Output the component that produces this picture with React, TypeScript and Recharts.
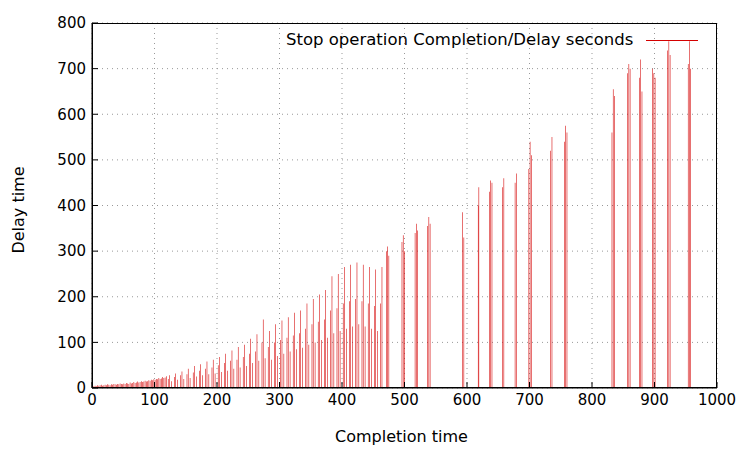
import { ComposedChart, Bar, XAxis, YAxis, CartesianGrid } from "recharts";

const completion = [
  1, 3, 5, 7, 9, 11, 13, 15, 17, 19, 21, 23, 25, 27, 29, 31, 33, 35, 37, 39, 41, 43, 45, 47, 49,
  51, 53, 55, 57, 59, 61, 63, 65, 67, 69, 71, 73, 75, 77, 79, 81, 83, 85, 87, 89, 91, 93, 95, 97, 99,
  101, 103, 105, 107, 109, 111, 113, 115, 117, 119,
  122, 124, 127, 132, 134, 137, 142, 144, 147, 152, 154, 157, 162, 164, 167, 172, 174, 177,
  182, 184, 187, 192, 194, 197, 202, 204, 207, 212, 214, 217, 222, 224, 227, 232, 234, 237,
  242, 244, 247, 252, 254, 257, 262, 264, 267, 272, 274, 277, 282, 284, 287, 292, 294, 297,
  302, 304, 307, 312, 314, 317, 322, 324, 327, 332, 334, 337, 342, 344, 347, 352, 354, 357,
  362, 364, 367, 372, 374, 377, 382, 384, 387, 392, 394, 397, 402, 404, 407, 412, 414, 417,
  422, 424, 427, 432, 434, 437, 442, 444, 447, 452, 454, 457, 462, 464,
  471, 473, 475, 496, 498, 500, 517, 519, 521, 537, 539, 541, 593, 595, 618, 619,
  636, 638, 640, 657, 659, 677, 679, 699, 701, 703, 734, 736, 756, 758, 760,
  832, 834, 836, 857, 859, 861, 876, 878, 880, 897, 899, 901, 921, 923, 925, 954, 956, 958,
];

const delay = [
  3, 4, 5, 4, 6, 5, 6, 7, 5, 6, 7, 6, 8, 7, 6, 8, 7, 9, 8, 7, 9, 8, 10, 9, 8,
  10, 9, 11, 10, 9, 12, 10, 11, 13, 11, 12, 14, 12, 13, 15, 13, 14, 16, 14, 15, 17, 16, 18, 17, 19,
  18, 20, 19, 22, 20, 21, 24, 22, 23, 26,
  20, 28, 15, 24, 32, 18, 28, 36, 20, 30, 42, 22, 34, 48, 25, 38, 52, 28,
  42, 58, 30, 45, 62, 32, 50, 68, 35, 55, 75, 38, 60, 82, 42, 62, 90, 45,
  68, 95, 48, 75, 108, 55, 80, 118, 60, 100, 150, 65, 90, 125, 62, 100, 140, 70,
  105, 148, 75, 110, 155, 80, 115, 165, 85, 120, 170, 88, 130, 185, 95, 140, 195, 100,
  145, 205, 105, 150, 215, 110, 170, 245, 120, 175, 250, 125, 185, 265, 130, 190, 270, 135,
  195, 275, 140, 190, 270, 135, 185, 265, 130, 180, 260, 125, 185, 265,
  300, 310, 290, 320, 335, 300, 340, 360, 345, 355, 375, 360, 385, 330, 400, 440,
  430, 455, 450, 440, 460, 450, 470, 480, 540, 510, 520, 550, 540, 575, 560,
  560, 655, 640, 690, 710, 700, 680, 720, 650, 700, 690, 680, 740, 760, 730, 710, 760, 700,
];

const xTicks = [0, 100, 200, 300, 400, 500, 600, 700, 800, 900, 1000];
const yTicks = [0, 100, 200, 300, 400, 500, 600, 700, 800];

const data = completion.map((x, i) => ({ x, y: delay[i] }));

const font = "'DejaVu Sans', sans-serif";

export default function App() {
  return (
    <div style={{ position: "absolute", left: 0, top: 0, width: 750, height: 450, background: "#fff", fontFamily: font }}>
      <ComposedChart width={750} height={450} data={data} margin={{ top: 23, right: 33, bottom: 32, left: 32 }}>
        <CartesianGrid stroke="#999" strokeDasharray="1 4" />
        <XAxis
          dataKey="x"
          type="number"
          domain={[0, 1000]}
          ticks={xTicks}
          height={30}
          tick={{ fill: "#000", fontSize: 15, fontFamily: font }}
          tickLine={{ stroke: "#000" }}
          tickSize={-6}
          tickMargin={12}
          axisLine={{ stroke: "#000" }}
        />
        <YAxis
          type="number"
          domain={[0, 800]}
          ticks={yTicks}
          width={60}
          tick={{ fill: "#000", fontSize: 15, fontFamily: font }}
          tickLine={{ stroke: "#000" }}
          tickSize={-6}
          tickMargin={12}
          axisLine={{ stroke: "#000" }}
        />
        <Bar dataKey="y" fill="#d40000" barSize={2} isAnimationActive={false} />
      </ComposedChart>
      <div style={{ position: "absolute", left: 92, top: 23, width: 625, height: 365, border: "1px solid #000", boxSizing: "border-box", pointerEvents: "none" }} />
      <div style={{ position: "absolute", left: 286, top: 30, fontSize: 16.5, whiteSpace: "nowrap" }}>Stop operation Completion/Delay seconds</div>
      <div style={{ position: "absolute", left: 646, top: 40, width: 52, height: 1, background: "#d40000" }} />
      <div style={{ position: "absolute", left: 335, top: 427, fontSize: 16 }}>Completion time</div>
      <div style={{ position: "absolute", left: 18, top: 210, fontSize: 16, transform: "translate(-50%,-50%) rotate(-90deg)", whiteSpace: "nowrap" }}>Delay time</div>
    </div>
  );
}
